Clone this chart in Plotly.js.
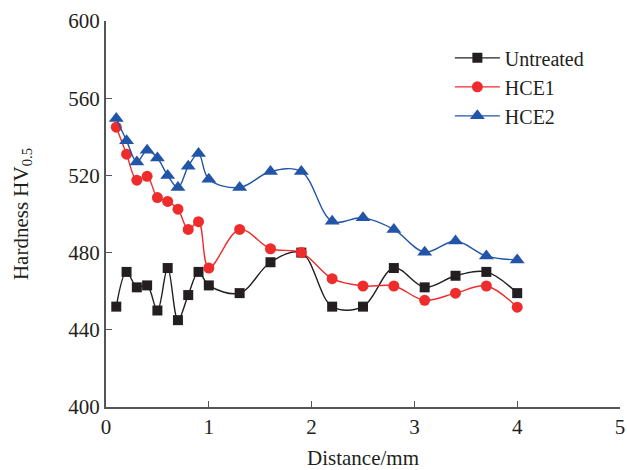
<!DOCTYPE html>
<html>
<head>
<meta charset="utf-8">
<script src="https://cdn.plot.ly/plotly-3.0.1.min.js"></script>
<style>html,body{margin:0;padding:0;background:#fff;}#chart{width:627px;height:470px;}</style>
</head>
<body>
<div id="chart"></div>
<script>
const distUntreated = [0.1,0.2,0.3,0.4,0.5,0.6,0.7,0.8,0.9,1.0,1.3,1.6,1.9,2.2,2.5,2.8,3.1,3.4,3.7,4.0];
const untreated = [452,470,462,463,450,472,445,458,470,463,459,475,480,452,452,472,462,468,470,459];
const distHCE1 = [0.1,0.2,0.3,0.4,0.5,0.6,0.7,0.8,0.9,1.0,1.3,1.6,1.9,2.2,2.5,2.8,3.1,3.4,3.7,4.0];
const hce1 = [545,531,517.5,519.5,508.5,506.5,502.5,492,496,472,492,482,480,466.5,462.7,462.7,455.3,459,462.7,451.7];
const distHCE2 = [0.1,0.2,0.3,0.4,0.5,0.6,0.7,0.8,0.9,1.0,1.3,1.6,1.9,2.2,2.5,2.8,3.1,3.4,3.7,4.0];
const hce2 = [549.5,538,527,533,529,520,513.7,524.7,531.3,518,513.7,522,522,496.2,498,492,480.2,486,478.2,476.2];
const seriesNames = ['Untreated','HCE1','HCE2'];
const xTicks = [0,1,2,3,4,5];
const yTicks = [400,440,480,520,560,600];

const font = "'Liberation Serif','Times New Roman',serif";
const txt = '#231f20';
const fs = 21;
function tr(x,y,name,color,symbol,size){
  return {x:x,y:y,name:name,type:'scatter',mode:'lines+markers',
    line:{color:color,width:1.4,shape:'spline',smoothing:1.0},
    marker:{color:color,symbol:symbol,size:size,line:{width:0}}};
}
const data = [
  tr(distUntreated,untreated,seriesNames[0],'#231f20','square',10),
  tr(distHCE1,hce1,seriesNames[1],'#ee2c2c','circle',11),
  tr(distHCE2,hce2,seriesNames[2],'#2255a8','triangle-up',13)
];
const layout = {
  width:627,height:470,
  margin:{l:106,r:7,t:21,b:63},
  paper_bgcolor:'#fff',plot_bgcolor:'#fff',
  font:{family:font,size:fs,color:txt},
  showlegend:true,
  legend:{x:0.669,y:0.955,xanchor:'left',yanchor:'top',bgcolor:'rgba(0,0,0,0)',
    font:{family:font,size:20,color:txt},tracegroupgap:0,itemwidth:45},
  xaxis:{range:[0,5],tickvals:xTicks,ticktext:xTicks.map(String),
    ticks:'inside',ticklen:6,tickwidth:1.3,tickcolor:'#555',
    showline:true,linecolor:'#555',linewidth:2,showgrid:false,zeroline:false,
    tickfont:{family:font,size:fs,color:txt},
    title:{text:'Distance/mm',font:{family:font,size:fs,color:txt},standoff:13}},
  yaxis:{range:[400,600],tickvals:yTicks,ticktext:yTicks.map(String),
    ticks:'inside',ticklen:6,tickwidth:1.3,tickcolor:'#555',
    showline:true,linecolor:'#555',linewidth:2,showgrid:false,zeroline:false,
    tickfont:{family:font,size:fs,color:txt},
    title:{text:'Hardness HV<sub>0.5</sub>',font:{family:font,size:fs,color:txt},standoff:34}}
};
Plotly.newPlot('chart',data,layout,{displayModeBar:false,staticPlot:true});
</script>
</body>
</html>
